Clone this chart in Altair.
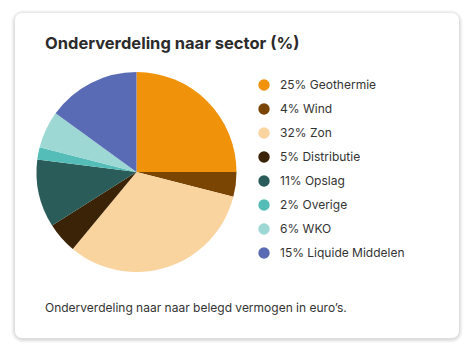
import altair as alt
import pandas as pd

categories = ["Geothermie", "Wind", "Zon", "Distributie", "Opslag", "Overige", "WKO", "Liquide Middelen"]
values = [25, 4, 32, 5, 11, 2, 6, 15]
colors = ["#F0920A", "#7A4502", "#F9D49E", "#3A2306", "#2A5D5A", "#55BDB8", "#9ED8D5", "#5A6BB5"]

title_text = "Onderverdeling naar sector (%)"
footer_text = "Onderverdeling naar naar belegd vermogen in euro\u2019s."

FONT = "Inter"
labels = [f"{v}% {c}" for v, c in zip(values, categories)]
df = pd.DataFrame({"label": labels, "value": values, "order": list(range(len(values)))})

W, H = 458, 340

# card with faint shadow
shadow_layers = []
for i, op in enumerate([0.025, 0.03, 0.035, 0.04]):
    g = 4 - i
    shadow_layers.append(
        alt.Chart(pd.DataFrame({"a": [0]})).mark_rect(
            color="#000000", opacity=op, cornerRadius=8 + g
        ).encode(
            x=alt.value(7 - g), x2=alt.value(451 + g),
            y=alt.value(6 - g), y2=alt.value(331 + g),
        )
    )
card = alt.Chart(pd.DataFrame({"a": [0]})).mark_rect(
    color="#ffffff", cornerRadius=7
).encode(x=alt.value(7), x2=alt.value(451), y=alt.value(5), y2=alt.value(330))

pie = alt.Chart(df).mark_arc(radius=100, stroke=None).encode(
    theta=alt.Theta("value:Q", stack=True),
    order=alt.Order("order:Q"),
    color=alt.Color(
        "label:N",
        sort=labels,
        scale=alt.Scale(domain=labels, range=colors),
        legend=alt.Legend(
            title=None,
            orient="none",
            legendX=250,
            legendY=71,
            symbolType="circle",
            symbolSize=130,
            symbolStrokeWidth=0,
            labelFont=FONT,
            labelFontSize=12,
            labelColor="#333333",
            labelOffset=10,
            rowPadding=12,
            labelLimit=300,
        ),
    ),
    x=alt.value(128.5),
    y=alt.value(164),
)

title = alt.Chart(pd.DataFrame({"t": [title_text]})).mark_text(
    align="left", baseline="alphabetic", font=FONT, fontSize=16.5, fontWeight="bold", color="#2b2b2b"
).encode(text="t:N", x=alt.value(37), y=alt.value(41))

footer = alt.Chart(pd.DataFrame({"t": [footer_text]})).mark_text(
    align="left", baseline="middle", font=FONT, fontSize=12, color="#333333"
).encode(text="t:N", x=alt.value(37), y=alt.value(300))

chart = alt.layer(*shadow_layers, card, pie, title, footer).properties(
    width=W, height=H, autosize=alt.AutoSizeParams(type="none"), padding=0,
    background="#ffffff",
).configure_view(stroke=None)

chart.save("out.html", embed_options={"renderer": "svg", "actions": False})
